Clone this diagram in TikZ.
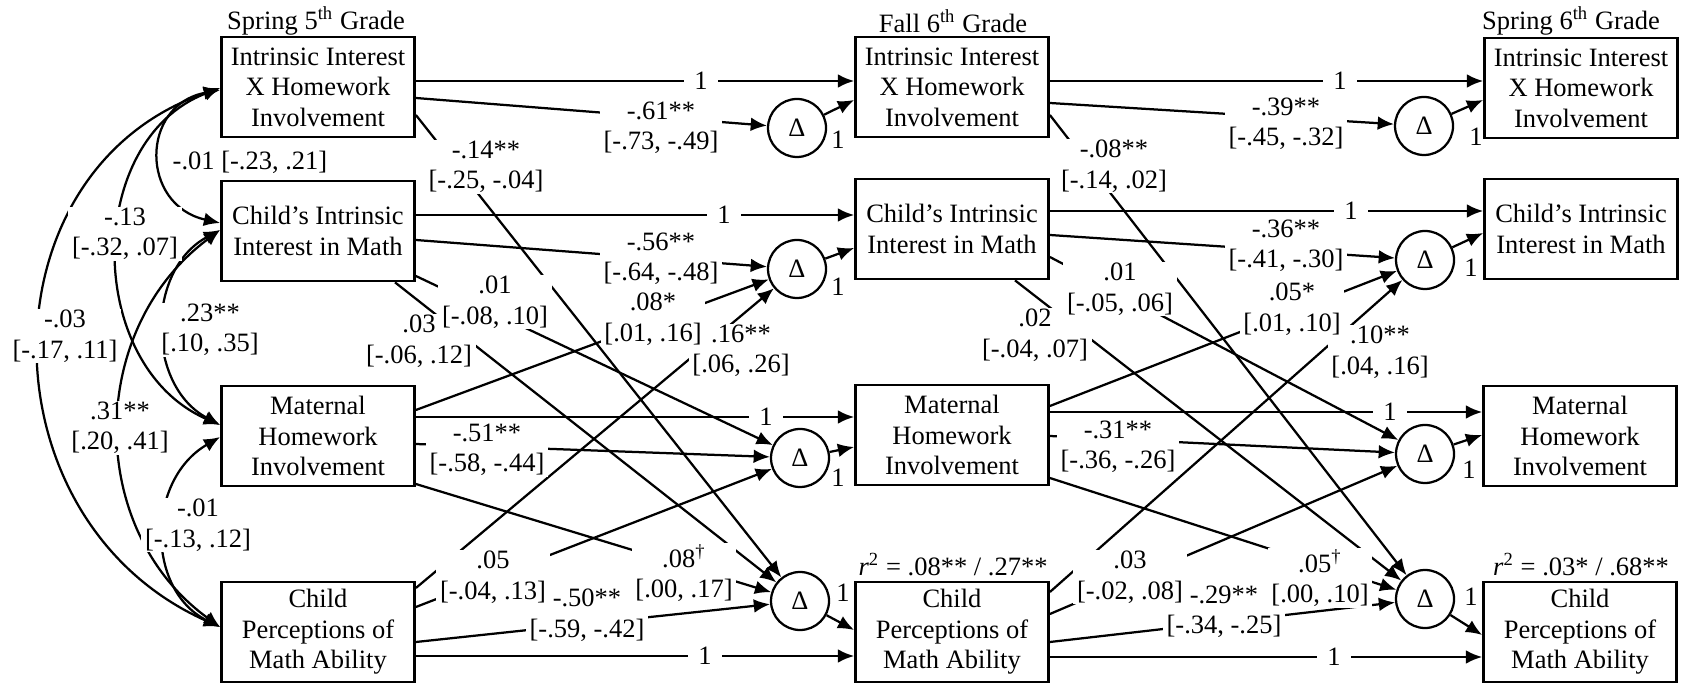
\documentclass[tikz,border=0pt]{standalone}
\usepackage{fontspec}
\setmainfont{Liberation Serif}
\usetikzlibrary{arrows.meta}

\begin{document}
\begin{tikzpicture}[x=0.4pt, y=-0.4pt, line width=0.9pt,
	font=\fontsize{10.6}{12.2}\selectfont,
	>={Latex[length=6.5pt,width=5.5pt]},
	box/.style={draw, line width=1.1pt, align=center, minimum width=77.2pt, minimum height=40pt, inner sep=1pt},
	delta/.style={draw, circle, minimum size=23.2pt, inner sep=0pt},
	lbl/.style={fill=white, align=center, inner xsep=1.5pt, inner ysep=0.5pt},
	one/.style={fill=white, inner xsep=4pt, inner ysep=0pt}]
	\useasboundingbox (0,0) rectangle (1684,684);
	% Boxes, deltas and headers:
	\node(H1) at (316,21){Spring 5\textsuperscript{th} Grade};
	\node(H2) at (953,21){Fall 6\textsuperscript{th} Grade};
	\node(H3) at (1571,21){Spring 6\textsuperscript{th} Grade};
	\node[box](IxH1) at (318,87){Intrinsic Interest\\X Homework\\Involvement};
	\node[box](Int1) at (318,231){Child's Intrinsic\\Interest in Math};
	\node[box](HW1) at (318,436){Maternal\\Homework\\Involvement};
	\node[box](Abl1) at (318,632){Child\\Perceptions of\\Math Ability};
	\node[box](IxH2) at (952,87){Intrinsic Interest\\X Homework\\Involvement};
	\node[box](Int2) at (952,229){Child's Intrinsic\\Interest in Math};
	\node[box](HW2) at (952,435){Maternal\\Homework\\Involvement};
	\node[box](Abl2) at (952,632){Child\\Perceptions of\\Math Ability};
	\node[box](IxH3) at (1581,88){Intrinsic Interest\\X Homework\\Involvement};
	\node[box](Int3) at (1581,229){Child's Intrinsic\\Interest in Math};
	\node[box](HW3) at (1580,436){Maternal\\Homework\\Involvement};
	\node[box](Abl3) at (1580,632){Child\\Perceptions of\\Math Ability};
	\node[delta](dIxH2) at (797,128){Δ};
	\node[delta](dInt2) at (797,269){Δ};
	\node[delta](dHW2) at (800,458){Δ};
	\node[delta](dAbl2) at (800,601){Δ};
	\node[delta](dIxH3) at (1424,126){Δ};
	\node[delta](dInt3) at (1425,260){Δ};
	\node[delta](dHW3) at (1425,454){Δ};
	\node[delta](dAbl3) at (1425,599){Δ};
	\node(r1) at (953,565){\textit{r}\textsuperscript{2} = .08** / .27**};
	\node(r2) at (1581,565){\textit{r}\textsuperscript{2} = .03* / .68**};
	% Covariances:
	\draw[<->] (IxH1.west|-0,90) .. controls (140,105) and (140,205) .. (Int1.west|-0,223);
	\draw[<->] (IxH1.west|-0,88) .. controls (84,140) and (84,365) .. (HW1.west|-0,425);
	\draw[<->] (IxH1.west|-0,88) .. controls (-20,170) and (-20,520) .. (Abl1.west|-0,627);
	\draw[<->] (Int1.west|-0,230) .. controls (146,270) and (146,385) .. (HW1.west|-0,425);
	\draw[<->] (Int1.west|-0,230) .. controls (86,330) and (86,530) .. (Abl1.west|-0,627);
	\draw[<->] (HW1.west|-0,437) .. controls (146,480) and (146,590) .. (Abl1.west|-0,627);
	% Spring 5th to fall 6th:
	\draw[->] (IxH1.east|-0,81) -- (IxH2.west|-0,81);
	\draw[->] (IxH1.east|-0,98) -- (dIxH2);
	\draw[->] (IxH1.east|-0,115) -- (dAbl2);
	\draw[->] (Int1.east|-0,215) -- (Int2.west|-0,215);
	\draw[->] (Int1.east|-0,240) -- (dInt2);
	\draw[->] (Int1.east|-0,276) -- (dHW2);
	\draw[->] (395,0|-Int1.south) -- (dAbl2);
	\draw[->] (HW1.east|-0,417) -- (HW2.west|-0,417);
	\draw[->] (HW1.east|-0,444) -- (dHW2);
	\draw[->] (HW1.east|-0,410) -- (dInt2);
	\draw[->] (HW1.east|-0,484) -- (dAbl2);
	\draw[->] (Abl1.east|-0,656) -- (Abl2.west|-0,656);
	\draw[->] (Abl1.east|-0,642) -- (dAbl2);
	\draw[->] (Abl1.east|-0,607) -- (dHW2);
	\draw[->] (Abl1.east|-0,588) -- (dInt2);
	\draw[->] (dIxH2) -- (IxH2.west|-0,100);
	\draw[->] (dInt2) -- (Int2.west|-0,248);
	\draw[->] (dHW2) -- (HW2.west|-0,447);
	\draw[->] (dAbl2) -- (Abl2.west|-0,630);
	% Fall 6th to spring 6th:
	\draw[->] (IxH2.east|-0,81) -- (IxH3.west|-0,81);
	\draw[->] (IxH2.east|-0,103) -- (dIxH3);
	\draw[->] (IxH2.east|-0,115) -- (dAbl3);
	\draw[->] (Int2.east|-0,211) -- (Int3.west|-0,211);
	\draw[->] (Int2.east|-0,235) -- (dInt3);
	\draw[->] (Int2.east|-0,257) -- (dHW3);
	\draw[->] (1015,0|-Int2.south) -- (dAbl3);
	\draw[->] (HW2.east|-0,412) -- (HW3.west|-0,412);
	\draw[->] (HW2.east|-0,436) -- (dHW3);
	\draw[->] (HW2.east|-0,406) -- (dInt3);
	\draw[->] (HW2.east|-0,478) -- (dAbl3);
	\draw[->] (Abl2.east|-0,657) -- (Abl3.west|-0,657);
	\draw[->] (Abl2.east|-0,642) -- (dAbl3);
	\draw[->] (Abl2.east|-0,614) -- (dHW3);
	\draw[->] (Abl2.east|-0,592) -- (dInt3);
	\draw[->] (dIxH3) -- (IxH3.west|-0,100);
	\draw[->] (dInt3) -- (Int3.west|-0,233);
	\draw[->] (dHW3) -- (HW3.west|-0,435);
	\draw[->] (dAbl3) -- (Abl3.west|-0,635);
	% Labels (drawn so that no white box hides a neighbour's text):
	\node[lbl](L1) at (250,162){-.01 [-.23, .21]};
	\node[lbl](L2) at (125,234){-.13\\{}[-.32, .07]};
	\node[lbl](L3) at (65,336){-.03\\{}[-.17, .11]};
	\node[lbl](L4) at (210,330){.23**\\{}[.10, .35]};
	\node[lbl](L5) at (120,428){.31**\\{}[.20, .41]};
	\node[lbl](L6) at (198,525){-.01\\{}[-.13, .12]};
	\node[one](O1) at (701,81){1};
	\node[one](O2) at (724,215){1};
	\node[one](O3) at (766,417){1};
	\node[one](O4) at (705,656){1};
	\node[lbl](L7) at (661,128){-.61**\\{}[-.73, -.49]};
	\node[lbl](L8) at (486,167){-.14**\\{}[-.25, -.04]};
	\node[lbl](L9) at (661,259){-.56**\\{}[-.64, -.48]};
	\node[lbl](L11) at (419,341){.03\\{}[-.06, .12]};
	\node[lbl](L10) at (495,302){.01\\{}[-.08, .10]};
	\node[lbl](L12) at (487,450){-.51**\\{}[-.58, -.44]};
	\node[lbl](L17) at (741,351){.16**\\{}[.06, .26]};
	\node[lbl](L13) at (653,319){.08*\\{}[.01, .16]};
	\node[lbl](L15) at (587,615){-.50**\\{}[-.59, -.42]};
	\node[lbl](L16) at (493,577){.05\\{}[-.04, .13]};
	\node[lbl](L14) at (684,573){.08\textsuperscript{†}\\{}[.00, .17]};
	\node[one](O5) at (1340,81){1};
	\node[one](O6) at (1351,211){1};
	\node[one](O7) at (1390,412){1};
	\node[one](O8) at (1334,657){1};
	\node[lbl](L18) at (1286,124){-.39**\\{}[-.45, -.32]};
	\node[lbl](L19) at (1114,166){-.08**\\{}[-.14, .02]};
	\node[lbl](L20) at (1286,246){-.36**\\{}[-.41, -.30]};
	\node[lbl](L22) at (1035,335){.02\\{}[-.04, .07]};
	\node[lbl](L21) at (1120,289){.01\\{}[-.05, .06]};
	\node[lbl](L23) at (1118,447){-.31**\\{}[-.36, -.26]};
	\node[lbl](L28) at (1380,352){.10**\\{}[.04, .16]};
	\node[lbl](L24) at (1292,309){.05*\\{}[.01, .10]};
	\node[lbl](L26) at (1224,612){-.29**\\{}[-.34, -.25]};
	\node[lbl](L27) at (1130,577){.03\\{}[-.02, .08]};
	\node[lbl](L25) at (1320,578){.05\textsuperscript{†}\\{}[.00, .10]};
	% Delta loadings:
	\node(D1) at (838,140){1};
	\node(D2) at (838,287){1};
	\node(D3) at (838,478){1};
	\node(D4) at (843,593){1};
	\node(D5) at (1476,137){1};
	\node(D6) at (1471,268){1};
	\node(D7) at (1469,470){1};
	\node(D8) at (1471,597){1};
\end{tikzpicture}
\end{document}
